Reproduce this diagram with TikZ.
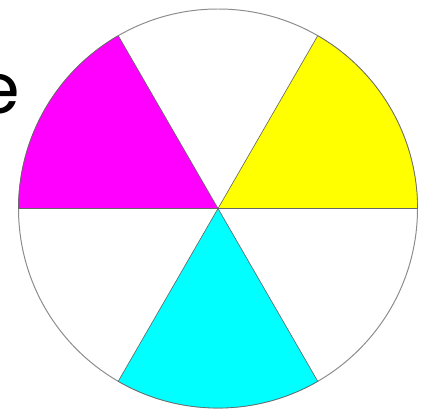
\documentclass[tikz,border=0pt]{standalone}
\usepackage{fontspec}
\newfontfamily\letterfont{Poppins}
\definecolor{wheelmagenta}{RGB}{255,0,255}
\definecolor{wheelyellow}{RGB}{255,255,0}
\definecolor{wheelcyan}{RGB}{0,255,255}

\begin{document}
\begin{tikzpicture}[
  x=0.025cm, y=0.025cm,
  sector/.style={draw=black!60, line width=0.45pt},
  rim/.style={draw=black!45, line width=0.7pt}
]
  \useasboundingbox (0,0) rectangle (427,409);
  \clip (0,0) rectangle (427,409);
  \coordinate (c) at (218,200.5);

  \node[anchor=base east, inner sep=0pt,
        font=\letterfont\fontsize{50}{55}\selectfont] (letter) at (20,295) {e};

  % outer rim
  \draw[rim, fill=white] (c) circle[radius=199.5];

  % coloured sectors
  \draw[sector, fill=wheelmagenta] (c) -- ++(120:199.5)
    arc[start angle=120, end angle=180, radius=199.5] -- cycle;
  \draw[sector, fill=wheelyellow] (c) -- ++(0:199.5)
    arc[start angle=0, end angle=60, radius=199.5] -- cycle;
  \draw[sector, fill=wheelcyan] (c) -- ++(240:199.5)
    arc[start angle=240, end angle=300, radius=199.5] -- cycle;
\end{tikzpicture}
\end{document}
